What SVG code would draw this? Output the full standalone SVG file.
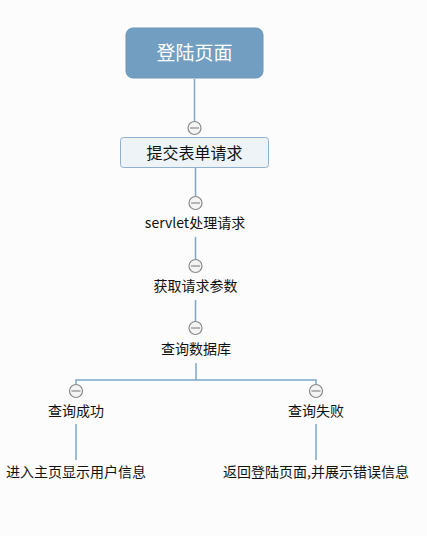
<svg xmlns="http://www.w3.org/2000/svg" width="427" height="536" viewBox="0 0 427 536">
<style>
text{font-family:"Noto Sans CJK SC","Liberation Sans",sans-serif;text-anchor:middle;fill:#111}
.c{stroke:#7ea7c9;stroke-width:1.5;fill:none}
.kc{fill:#f4f4f4;stroke:#8a8a8a;stroke-width:1.2}
.kl{stroke:#8a8a8a;stroke-width:1.2}
.t{font-size:14px}
</style>
<defs>
<g id="col"><circle class="kc" cx="0" cy="0" r="6.5"/><line class="kl" x1="-4.5" y1="0" x2="4.5" y2="0"/></g>
</defs>
<rect width="427" height="536" fill="#fcfcfc"/>
<g id="connectors">
<line class="c" x1="194.5" y1="79" x2="194.5" y2="122"/>
<line class="c" x1="195.5" y1="168" x2="195.5" y2="197"/>
<line class="c" x1="195.5" y1="237" x2="195.5" y2="260"/>
<line class="c" x1="195.5" y1="300" x2="195.5" y2="322"/>
<polyline class="c" points="196,363 196,380"/>
<polyline class="c" points="76,385 76,380 316,380 316,385"/>
<line class="c" x1="76" y1="424" x2="76" y2="460"/>
<line class="c" x1="316" y1="424" x2="316" y2="460"/>
</g>
<g id="root">
<rect x="126" y="28" width="137" height="50" rx="7" fill="#729fc1" stroke="#6a96b8"/>
<text x="194.5" y="60" style="font-size:19px;fill:#fff">登陆页面</text>
</g>
<g id="col1"><use href="#col" x="194.5" y="128"/></g>
<g id="n1">
<rect x="120.5" y="137.5" width="148" height="30" rx="3" fill="#eef3f8" stroke="#8fb0cf"/>
<text x="194.5" y="158.5" style="font-size:16px">提交表单请求</text>
</g>
<g id="col2"><use href="#col" x="195.5" y="203"/></g>
<g id="n2"><text class="t" x="195" y="228">servlet处理请求</text></g>
<g id="col3"><use href="#col" x="195.5" y="266"/></g>
<g id="n3"><text class="t" x="195.5" y="291">获取请求参数</text></g>
<g id="col4"><use href="#col" x="195.5" y="328"/></g>
<g id="n4"><text class="t" x="196" y="354">查询数据库</text></g>
<g id="col5"><use href="#col" x="76" y="391"/></g>
<g id="n5"><text class="t" x="76" y="416">查询成功</text></g>
<g id="col6"><use href="#col" x="316" y="391"/></g>
<g id="n6"><text class="t" x="316" y="416">查询失败</text></g>
<g id="n7"><text class="t" x="76" y="477">进入主页显示用户信息</text></g>
<g id="n8"><text class="t" x="316" y="477">返回登陆页面,并展示错误信息</text></g>
</svg>
